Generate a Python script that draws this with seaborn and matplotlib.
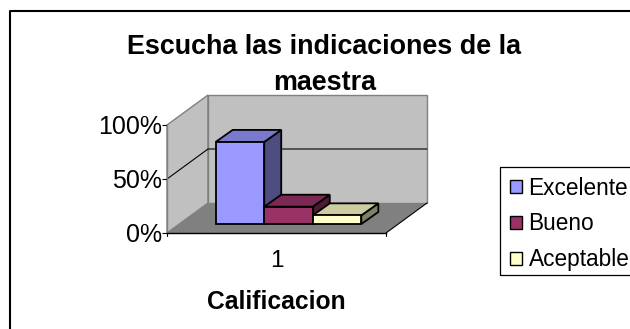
"""Escucha las indicaciones de la maestra: fake 3D column chart."""
import matplotlib
matplotlib.use("Agg")
import matplotlib.pyplot as plt
import pandas as pd
import seaborn as sns
from matplotlib.colors import to_rgb
from matplotlib.patches import Patch, Polygon
from matplotlib.transforms import Affine2D, IdentityTransform

CATEGORIES = ["1"]
SERIES = ["Excelente", "Bueno", "Aceptable"]
VALUES = [76, 16, 8]
COLORS = ["#9999FF", "#993366", "#FFFFCC"]
Y_TICKS = [0, 50, 100]
Y_LABELS = ["0%", "50%", "100%"]

W, H = 630, 329
FRONT = (167, 386, 233, 125)  # left, right, bottom, top in image pixels
DEPTH = (41, 30)
BAR_SHIFT = (12, 9)
BAR_DEPTH = (17, 12)

sns.set_theme(style="white")
plt.rcParams["font.family"] = ["Liberation Sans", "DejaVu Sans"]
plt.rcParams["text.color"] = "black"
plt.rcParams["axes.labelcolor"] = "black"
plt.rcParams["xtick.color"] = "black"
plt.rcParams["ytick.color"] = "black"


def px(x, y):
    return (x / W, 1 - y / H)


def shade(color, f):
    return tuple(c * f for c in to_rgb(color))


def main() -> None:
    fig = plt.figure(figsize=(W / 100, H / 100), dpi=100, facecolor="white")
    left, right, bottom, top = FRONT
    dx, dy = DEPTH

    def poly(points, **kw):
        fig.add_artist(Polygon([px(*p) for p in points], closed=True, transform=fig.transFigure, **kw))

    def line(points, **kw):
        xs, ys = zip(*[px(*p) for p in points])
        fig.add_artist(plt.Line2D(xs, ys, transform=fig.transFigure, **kw))

    # chart frame runs off the picture on the right and at the bottom
    line([(630, 11), (10, 11), (10, 329)], color="black", lw=1.5)

    # walls and floor
    poly([(left, bottom), (left + dx, bottom - dy), (left + dx, top - dy), (left, top)],
         facecolor="#C0C0C0", edgecolor="#808080", lw=1)
    poly([(left + dx, bottom - dy), (right + dx, bottom - dy), (right + dx, top - dy), (left + dx, top - dy)],
         facecolor="#C0C0C0", edgecolor="#808080", lw=1)
    poly([(left, bottom), (right, bottom), (right + dx, bottom - dy), (left + dx, bottom - dy)],
         facecolor="#808080", edgecolor="none")
    line([(right, bottom), (right + dx, bottom - dy)], color="black", lw=0.8)
    mid = (bottom + top) / 2
    line([(left, mid), (left + dx, mid - dy), (right + dx, mid - dy)], color="black", lw=0.8)

    ax = fig.add_axes([left / W, 1 - bottom / H, (right - left) / W, (bottom - top) / H])
    ax.set_zorder(10)
    ax.patch.set_alpha(0)
    df = pd.DataFrame({"cat": CATEGORIES * len(SERIES), "serie": SERIES, "valor": VALUES})
    sns.barplot(data=df, x="cat", y="valor", hue="serie", hue_order=SERIES, palette=COLORS,
                saturation=1, width=0.665, gap=0, legend=False, ax=ax, zorder=5,
                edgecolor="black", linewidth=1.3)
    ax.set_xlim(-0.5, 0.5)
    ax.set_ylim(0, 100)
    ax.set_yticks(Y_TICKS, Y_LABELS, fontsize=18)
    ax.set_xticks([0], CATEGORIES, fontsize=17.5)
    ax.set_xlabel("Calificacion", fontsize=17.7, fontweight="bold", labelpad=13)
    ax.set_ylabel("")
    ax.tick_params(axis="y", length=3.5, width=0.8, color="black", pad=0, left=True)
    ax.tick_params(axis="x", length=0, pad=12.5)
    for s in ["top", "right"]:
        ax.spines[s].set_visible(False)
    ax.spines["left"].set_color("#808080")
    ax.spines["bottom"].set_color("black")
    ax.spines["left"].set_linewidth(1)
    ax.spines["bottom"].set_linewidth(1)
    line([(right, bottom), (right, bottom + 3)], color="black", lw=0.8)
    line([(left, bottom), (left, bottom + 3)], color="black", lw=0.8)

    # extrude each bar; heights and x extents come from the axes
    sx, sy = BAR_SHIFT
    bx, by = BAR_DEPTH
    shift = Affine2D().translate(sx, sy)
    bars = [p for p in ax.patches if p.get_height() > 0]
    for bar, color in zip(bars, COLORS):
        x0, y0 = ax.transData.transform((bar.get_x(), 0))
        x1, y1 = ax.transData.transform((bar.get_x() + bar.get_width(), bar.get_height()))
        x0, x1 = x0 + sx, x1 + sx
        y0, y1 = y0 + sy, y1 + sy
        kw = dict(edgecolor="black", lw=1.3, transform=IdentityTransform(), zorder=4, clip_on=False)
        ax.add_patch(Polygon([(x1, y0), (x1 + bx, y0 + by), (x1 + bx, y1 + by), (x1, y1)],
                             facecolor=shade(color, 0.5), **kw))
        ax.add_patch(Polygon([(x0, y1), (x1, y1), (x1 + bx, y1 + by), (x0 + bx, y1 + by)],
                             facecolor=shade(color, 0.8), **kw))
        bar.set_transform(ax.transData + shift)
        bar.set_clip_on(False)

    fig.text(324.5 / W, 1 - 46.5 / H, "Escucha las indicaciones de la", ha="center", va="center",
             fontsize=19.4, fontweight="bold")
    fig.text(325 / W, 1 - 83 / H, "maestra", ha="center", va="center",
             fontsize=19.4, fontweight="bold")

    # legend box is cut off by the right edge, so its frame is drawn by hand
    line([(630, 167), (500, 167), (500, 275), (630, 275)], color="black", lw=0.9)
    handles = [Patch(facecolor=c, edgecolor="black", lw=1, label=s) for s, c in zip(SERIES, COLORS)]
    leg = fig.legend(handles=handles, loc="upper left", bbox_to_anchor=(500 / W, 1 - 167 / H),
                     bbox_transform=fig.transFigure, frameon=False, fontsize=16.3,
                     handlelength=0.57, handleheight=0.5, handletextpad=0.27,
                     labelspacing=0.565, borderpad=0.42, borderaxespad=0)
    leg.set_zorder(11)

    fig.savefig("out.png", dpi=100)
    plt.close(fig)


if __name__ == "__main__":
    main()
